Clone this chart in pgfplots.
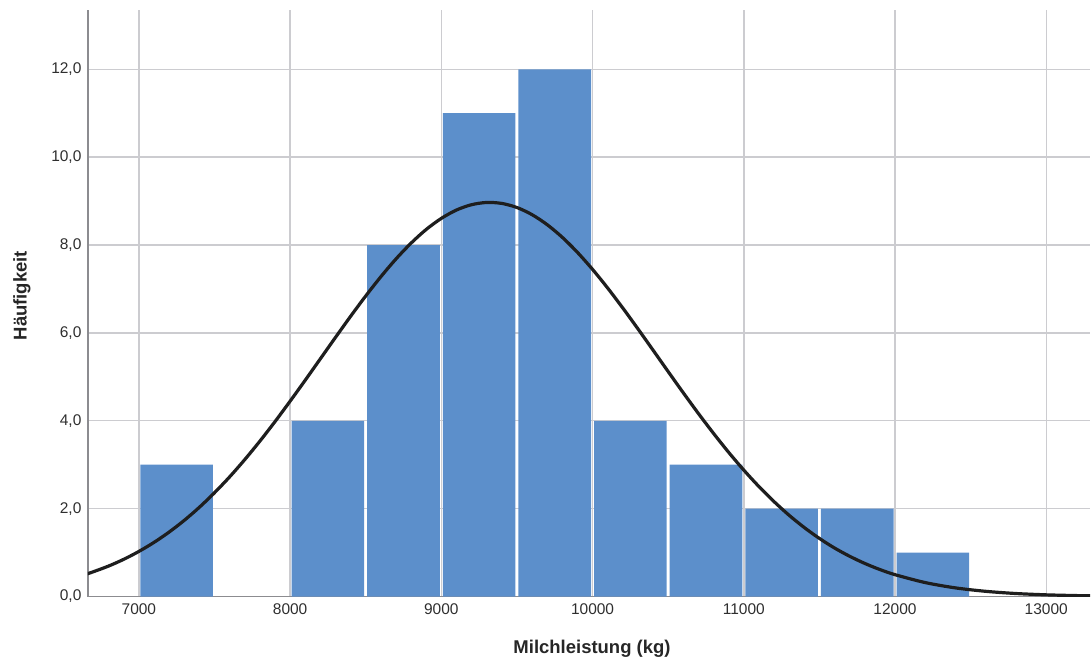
\documentclass[border=0pt]{standalone}
\usepackage{pgfplots}
\pgfplotsset{compat=1.18}
\usepackage{fontspec}
\setmainfont{Liberation Sans}

\definecolor{barblue}{RGB}{92,143,203}
\definecolor{gridgray}{RGB}{204,204,208}
\definecolor{axisgray}{RGB}{140,140,144}
\definecolor{curveblack}{RGB}{30,30,30}

\begin{document}
\begin{tikzpicture}
\begin{axis}[
  scale only axis,
  width=1003pt, height=587pt,
  xmin=6663, xmax=13290,
  ymin=0, ymax=13.35,
  axis lines*=left,
  axis line style={axisgray, line width=1.8pt},
  grid=major,
  major grid style={gridgray, line width=1.4pt},
  major tick length=0pt,
  scaled x ticks=false,
  xtick={7000,8000,9000,10000,11000,12000,13000},
  xticklabels={7000,8000,9000,10000,11000,12000,13000},
  ytick={0,2,4,6,8,10,12},
  yticklabels={{0,0},{2,0},{4,0},{6,0},{8,0},{10,0},{12,0}},
  tick label style={font=\fontsize{15.5}{18}\selectfont, text=black!82},
  xticklabel style={yshift=-4pt},
  yticklabel style={xshift=-3pt},
  xlabel={Milchleistung (kg)},
  ylabel={Häufigkeit},
  label style={font=\fontsize{18.5}{22}\selectfont\bfseries, text=black!85},
  xlabel style={at={(axis description cs:0.503,-0.0886)}, anchor=center},
  ylabel style={at={(axis description cs:-0.0658,0.513)}, anchor=center, rotate=0},
  clip=true,
]
% histogram, bin width 500 kg, bars placed at the bin centres
\addplot[ybar, bar width=480, bar shift=0pt, fill=barblue, draw=none]
  coordinates {
    (7250,3) (8250,4) (8750,8) (9250,11) (9750,12)
    (10250,4) (10750,3) (11250,2) (11750,2) (12250,1)
  };
% fitted normal curve (mean 9320, sd 1114, n = 50)
\addplot[curveblack, line width=3.2pt, smooth] coordinates {
  (6650,0.507) (6700,0.565) (6800,0.694) (6900,0.847) (7000,1.026)
  (7100,1.232) (7200,1.467) (7300,1.733) (7400,2.031) (7500,2.362)
  (7600,2.723) (7700,3.116) (7800,3.536) (7900,3.981) (8000,4.446)
  (8100,4.924) (8200,5.411) (8300,5.898) (8400,6.378) (8500,6.841)
  (8600,7.279) (8700,7.683) (8800,8.044) (8900,8.355) (9000,8.607)
  (9100,8.797) (9200,8.918) (9300,8.969) (9400,8.947) (9500,8.854)
  (9600,8.691) (9700,8.463) (9800,8.175) (9900,7.833) (10000,7.445)
  (10100,7.020) (10200,6.566) (10300,6.092) (10400,5.607) (10500,5.119)
  (10600,4.636) (10700,4.165) (10800,3.712) (10900,3.281) (11000,2.877)
  (11100,2.503) (11200,2.160) (11300,1.848) (11400,1.570) (11500,1.322)
  (11600,1.104) (11700,0.916) (11800,0.753) (11900,0.614) (12000,0.497)
  (12200,0.317) (12400,0.196) (12600,0.118) (12800,0.068) (13000,0.038)
  (13200,0.021) (13300,0.015)
};
\end{axis}
\path (current axis.south west) ++(-88pt,-65pt);
\path (current axis.north east) ++(0pt,10pt);
\end{tikzpicture}
\end{document}
